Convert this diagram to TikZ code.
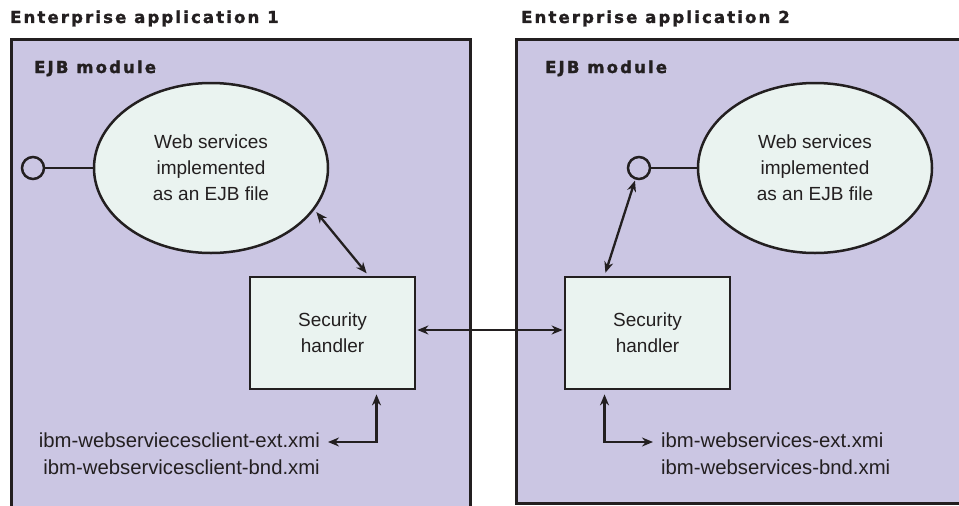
\documentclass[tikz,border=0pt]{standalone}
\usepackage{fontspec}
\setmainfont{Liberation Sans}
\newfontfamily\titlefont[LetterSpace=13,FakeBold=1.5]{DejaVu Sans}
\usetikzlibrary{shapes.geometric,arrows.meta,calc}
\definecolor{modfill}{RGB}{203,198,227}
\definecolor{itemfill}{RGB}{234,243,240}
\definecolor{ink}{RGB}{35,31,32}
\tikzset{
  x=1pt, y=-1pt,
  every node/.style={text=ink},
  titletext/.style={font=\titlefont\bfseries\fontsize{16.5}{19}\selectfont, anchor=base west, inner sep=0},
  modbox/.style={draw=ink, line width=3pt, fill=modfill},
  svc/.style={ellipse, draw=ink, line width=2.5pt, fill=itemfill, minimum width=234pt, minimum height=170pt, align=center, inner sep=0,
    font=\fontsize{19}{26}\selectfont},
  handler/.style={rectangle, draw=ink, line width=2.8pt, fill=itemfill, minimum width=165pt, minimum height=112pt, align=center, inner sep=0,
    font=\fontsize{19}{26}\selectfont},
  port/.style={circle, draw=ink, line width=2.5pt, fill=modfill, minimum size=22pt, inner sep=0},
  filetext/.style={font=\fontsize{20.3}{27}\selectfont, inner sep=0},
  conn/.style={draw=ink, line width=2.3pt},
  dblarrow/.style={conn, {Stealth[length=11pt,width=9pt]}-{Stealth[length=11pt,width=9pt]}},
}
\begin{document}
\begin{tikzpicture}
\useasboundingbox (0,0) rectangle (959,506);
\clip (0,0) rectangle (959,506);
% module boxes
\path[modbox] (11,39) rectangle (470,512);
\path[modbox] (516,39) rectangle (970,503);
% titles
\node[titletext] (title1) at (10,23) {Enterprise application 1};
\node[titletext] (title2) at (521,23) {Enterprise application 2};
\node[titletext] (mod1) at (34,73) {EJB module};
\node[titletext] (mod2) at (545,73) {EJB module};
% application 1
\node[svc] (ell1) at (211,168) {Web services\\implemented\\as an EJB file};
\node[port] (port1) at (33,168) {};
\draw[conn] (port1.east) -- (ell1.west);
\node[handler] (sh1) at (332.5,333) {Security\\handler};
\node[filetext, anchor=base east] (f1a) at (320,447) {ibm-webserviecesclient-ext.xmi};
\node[filetext, anchor=base east] (f1b) at (320,474) {ibm-webservicesclient-bnd.xmi};
% application 2
\node[svc] (ell2) at (815,168) {Web services\\implemented\\as an EJB file};
\node[port] (port2) at (639,168) {};
\draw[conn] (port2.east) -- (ell2.west);
\node[handler] (sh2) at (647.5,333) {Security\\handler};
\node[filetext, anchor=base west] (f2a) at (661,447) {ibm-webservices-ext.xmi};
\node[filetext, anchor=base west] (f2b) at (661,474) {ibm-webservices-bnd.xmi};
% connectors
\draw[dblarrow, shorten <=3pt, shorten >=3pt] (ell1.-22.5) -- ([xshift=36pt]sh1.north);
\draw[dblarrow, shorten <=1pt, shorten >=3pt] (port2) -- ([xshift=-43pt]sh2.north);
\draw[dblarrow, shorten <=1pt, shorten >=1pt] ([yshift=3pt]sh1.east) -- ([yshift=3pt]sh2.west);
\draw[dblarrow, shorten <=4pt] ([xshift=44pt]sh1.south) |- ([xshift=8pt,yshift=5pt]f1a.base east);
\draw[dblarrow, shorten <=4pt] ([xshift=-43pt]sh2.south) |- ([xshift=-8pt,yshift=5pt]f2a.base west);
\end{tikzpicture}
\end{document}
